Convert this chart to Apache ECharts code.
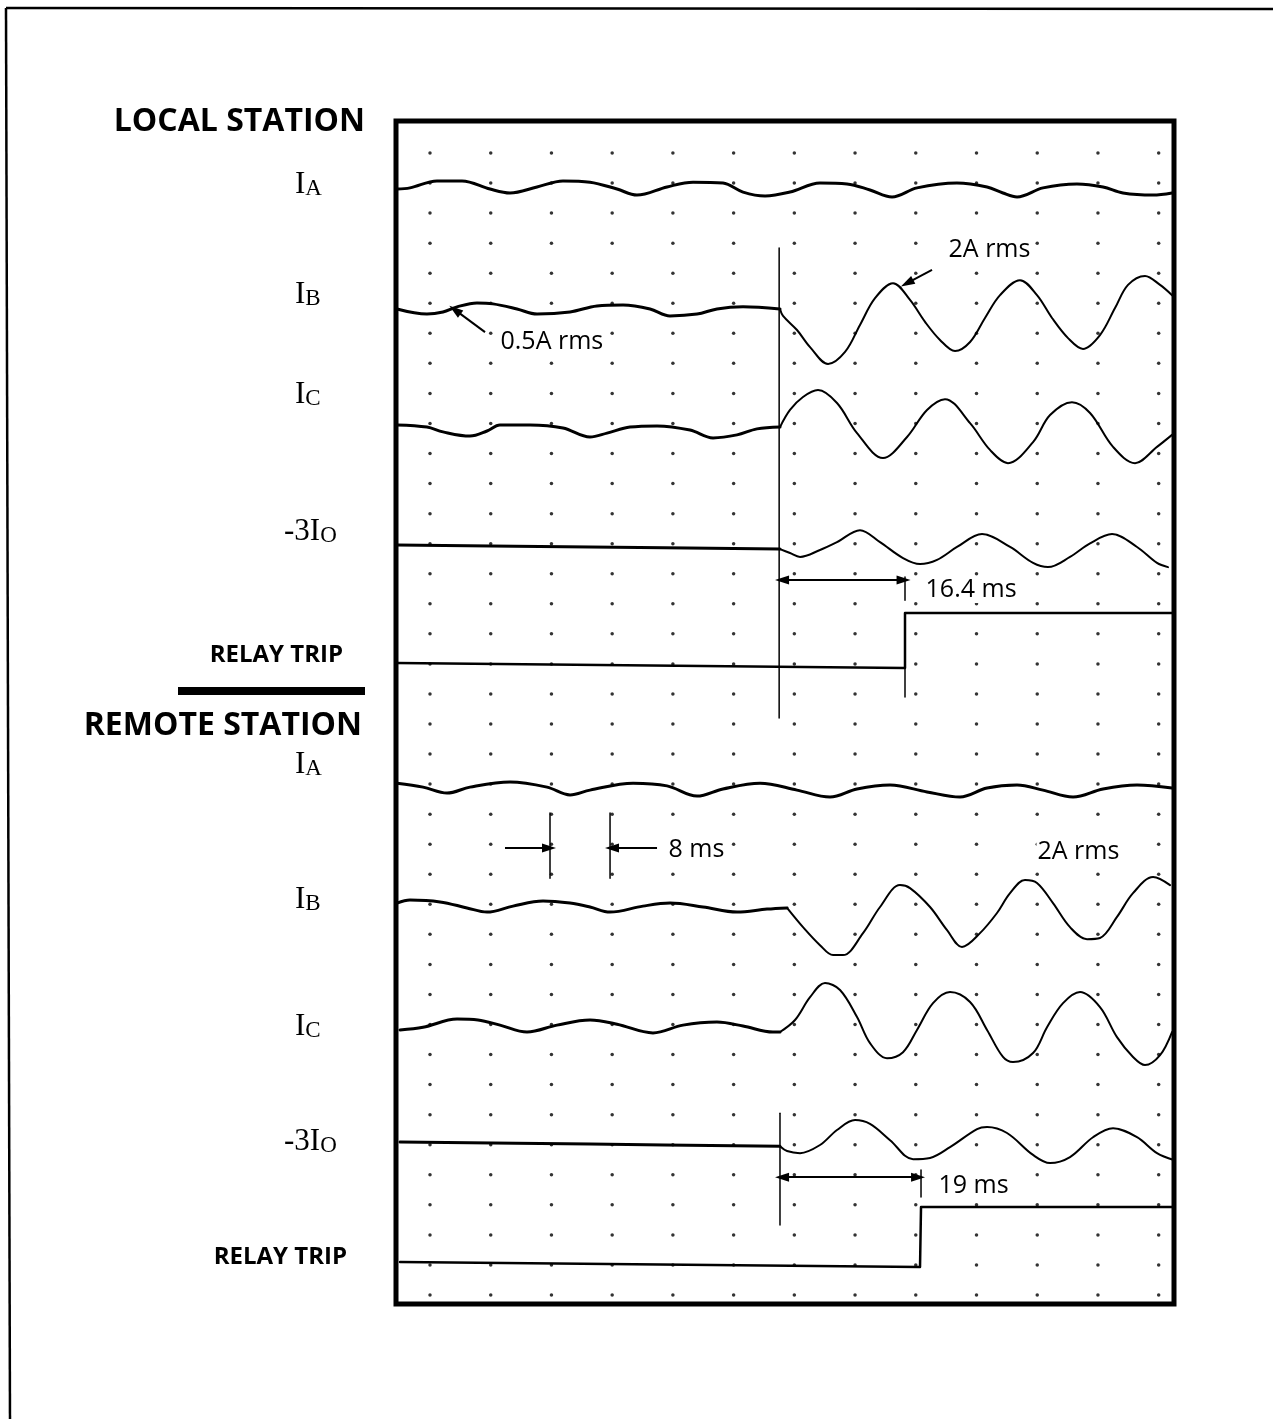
<!DOCTYPE html>
<html>
<head>
<meta charset="utf-8">
<script src="https://cdn.jsdelivr.net/npm/echarts@6/dist/echarts.min.js"></script>
<style>
  html, body { margin: 0; padding: 0; background: #fff; }
  #chart { width: 1273px; height: 1419px; }
</style>
</head>
<body>
<div id="chart"></div>
<script>
// ---- grid of dots (time in ms, rows in chart divisions, downward) ----
const dotTimes = [0, 8, 16, 24, 32, 40, 48, 56, 64, 72, 80, 88, 96];
const dotRows = [0,1,2,3,4,5,6,7,8,9,10,11,12,13,14,15,16,17,18,19,20,21,22,23,24,25,26,27,28,29,30,31,32,33,34,35,36,37,38];

// ---- LOCAL STATION traces: [time ms, position in divisions] ----
const localIA = [[-4.35,1.20],[-2.64,1.16],[0.92,0.93],[4.22,0.93],[7.91,1.20],[10.54,1.33],[14.10,1.13],[17.52,0.93],[21.08,0.97],[24.64,1.20],[27.27,1.40],[31.23,1.13],[34.65,0.97],[38.60,1.00],[41.24,1.30],[44.14,1.43],[47.43,1.30],[51.38,1.00],[54.94,1.03],[57.97,1.23],[60.87,1.46],[64.16,1.16],[69.43,1.00],[73.39,1.13],[75.49,1.33],[77.34,1.46],[80.76,1.16],[85.24,1.03],[88.67,1.13],[91.30,1.33],[95.26,1.40],[97.76,1.33]];
const localIBPre = [[-4.35,5.19],[-0.40,5.36],[1.71,5.29],[3.56,5.12],[6.19,4.99],[8.30,5.02],[11.46,5.19],[14.10,5.36],[18.45,5.29],[22.00,5.09],[25.43,5.06],[28.99,5.19],[31.62,5.42],[35.18,5.36],[37.81,5.19],[41.24,5.12],[46.11,5.19]];
const localIBPost = [[46.11,5.19],[46.51,5.42],[48.35,5.89],[50.07,6.46],[52.44,7.02],[54.68,6.62],[56.65,5.72],[58.63,4.83],[61.00,4.33],[63.24,4.89],[65.22,5.62],[67.19,6.22],[69.17,6.59],[71.15,6.29],[73.12,5.49],[75.10,4.73],[77.73,4.23],[79.97,4.73],[81.95,5.49],[84.06,6.16],[86.03,6.52],[88.27,6.06],[90.25,5.16],[91.96,4.39],[94.20,4.09],[96.18,4.39],[97.76,4.73]];
const localICPre = [[-4.35,9.05],[-0.40,9.12],[1.71,9.28],[5.27,9.42],[7.51,9.25],[9.22,9.05],[13.18,9.05],[17.52,9.15],[21.08,9.45],[23.32,9.32],[26.35,9.12],[29.91,9.08],[34.26,9.22],[37.29,9.48],[40.45,9.38],[43.08,9.18],[46.11,9.12]];
const localICPost = [[46.11,9.12],[47.43,8.55],[49.14,8.12],[51.12,7.89],[53.62,8.32],[56.26,9.32],[59.68,10.15],[62.85,9.45],[65.48,8.55],[67.85,8.19],[71.15,8.99],[73.78,9.88],[76.15,10.32],[79.45,9.62],[81.69,8.72],[84.58,8.29],[86.96,8.65],[89.99,9.78],[92.89,10.32],[95.78,9.78],[97.76,9.38]];
const localI0Pre = [[-4.35,13.04],[21.08,13.11],[46.11,13.18]];
const localI0Post = [[46.11,13.18],[47.43,13.31],[48.75,13.44],[51.38,13.21],[53.62,12.95],[56.65,12.55],[59.29,12.95],[62.32,13.48],[64.56,13.68],[66.80,13.54],[69.43,13.11],[72.73,12.68],[76.42,13.11],[79.45,13.64],[81.42,13.78],[84.32,13.44],[86.96,12.99],[89.86,12.68],[93.15,13.11],[95.78,13.64],[97.23,13.78]];
const localTrip = [[-4.35,16.97],[62.58,17.14],[62.58,15.31],[98.0,15.31]];

// ---- REMOTE STATION traces ----
const remoteIA = [[-4.35,20.97],[-0.92,21.10],[2.24,21.30],[5.27,21.10],[10.54,20.93],[15.42,21.10],[18.45,21.36],[21.08,21.20],[26.75,20.97],[31.23,21.06],[35.18,21.40],[38.60,21.16],[43.48,20.97],[48.35,21.20],[52.70,21.43],[56.26,21.16],[60.61,21.03],[65.48,21.26],[69.83,21.43],[73.39,21.13],[77.34,21.03],[80.76,21.20],[84.72,21.43],[88.67,21.16],[93.15,21.03],[97.76,21.13]];
const remoteIBPre = [[-4.35,24.96],[-2.64,24.86],[1.32,24.92],[4.87,25.12],[7.51,25.26],[10.94,25.06],[14.89,24.89],[18.45,24.96],[21.08,25.09],[23.72,25.26],[28.06,25.06],[31.62,24.96],[35.97,25.09],[40.45,25.26],[44.40,25.16],[47.04,25.12]];
const remoteIBPost = [[47.04,25.12],[49.14,25.76],[51.38,26.36],[53.10,26.69],[54.41,26.69],[57.05,25.96],[59.29,25.09],[61.92,24.36],[63.24,24.46],[65.88,25.09],[68.12,25.86],[70.09,26.42],[72.46,25.96],[74.70,25.29],[76.42,24.63],[78.39,24.19],[79.97,24.29],[82.08,24.96],[84.32,25.76],[86.56,26.16],[88.27,26.12],[90.51,25.42],[92.62,24.63],[95.26,24.09],[97.50,24.36]];
const remoteICPre = [[-3.95,29.18],[-0.92,29.09],[3.56,28.82],[6.32,28.85],[9.22,29.02],[12.78,29.25],[16.73,29.02],[21.08,28.85],[24.64,28.99],[29.38,29.28],[33.33,29.02],[37.81,28.92],[41.24,29.05],[45.19,29.25],[46.11,29.25]];
const remoteICPost = [[46.11,29.25],[48.09,28.85],[50.07,28.09],[52.04,27.62],[54.02,27.85],[56.26,28.75],[57.97,29.62],[60.21,30.12],[62.32,29.92],[64.16,29.18],[66.27,28.29],[68.51,27.92],[71.15,28.25],[73.39,29.18],[75.49,30.08],[76.81,30.25],[79.45,29.95],[81.29,29.09],[83.40,28.29],[85.64,27.92],[88.27,28.42],[90.51,29.42],[92.62,30.08],[94.20,30.35],[96.18,30.02],[97.76,29.25]];
const remoteI0Pre = [[-3.95,32.91],[21.08,32.98],[46.11,33.05]];
const remoteI0Post = [[46.11,33.05],[47.04,33.21],[48.75,33.28],[51.38,33.01],[53.62,32.51],[56.00,32.18],[57.97,32.31],[60.61,32.85],[63.64,33.48],[65.88,33.44],[68.51,33.08],[72.07,32.48],[73.39,32.41],[76.02,32.61],[79.45,33.34],[81.69,33.61],[84.32,33.41],[87.35,32.75],[89.99,32.45],[93.15,32.75],[95.78,33.28],[98.0,33.51]];
const remoteTrip = [[-3.95,36.90],[64.56,37.07],[64.69,35.07],[98.0,35.07]];

// ---- annotation marks ----
const markerSegments = [
  [[46.0,3.16],[46.0,18.80]],
  [[62.58,17.14],[62.58,18.10]],
  [[62.58,14.11],[62.58,14.88]],
  [[46.11,31.95],[46.11,35.67]],
  [[64.69,33.84],[64.69,34.74]],
  [[15.81,21.96],[15.81,24.13]],
  [[23.72,21.96],[23.72,24.13]]
];
const doubleArrows = [
  [[46.38,14.21],[62.39,14.21]],
  [[46.38,34.08],[64.30,34.08]]
];
const singleArrows = [
  [[9.88,23.13],[15.68,23.13]],
  [[29.91,23.13],[23.98,23.13]],
  [[66.14,3.89],[62.85,4.33]],
  [[7.25,5.96],[3.29,5.22]]
];
const annotationTexts = ['0.5A rms', '2A rms', '16.4 ms', '8 ms', '2A rms', '19 ms'];
const annotationPos = [[9.22,6.29],[68.25,3.23],[65.22,14.54],[31.36,23.19],[79.97,23.26],[66.93,34.38]];

// ---- left-hand labels ----
const stationTitles = ['LOCAL STATION', 'REMOTE STATION'];
const channelMain = ['I', 'I', 'I', '-3I', 'I', 'I', 'I', '-3I'];
const channelSub = ['A', 'B', 'C', 'O', 'A', 'B', 'C', 'O'];

// ================= build =================
const chart = echarts.init(document.getElementById('chart'), null, { renderer: 'canvas' });

const dotData = [];
dotRows.forEach(r => dotTimes.forEach(t => dotData.push([t, r])));

function trace(data, w, smooth) {
  return {
    type: 'line', data: data, symbol: 'none', smooth: smooth === undefined ? 0.35 : smooth,
    lineStyle: { color: '#000', width: w, cap: 'round', join: 'round' },
    silent: true, animation: false, z: 4
  };
}

const series = [];
series.push({
  type: 'scatter', data: dotData, symbol: 'circle', symbolSize: 3.5,
  itemStyle: { color: '#000' }, silent: true, animation: false, z: 2
});
[localIA].forEach(d => series.push(trace(d, 3)));
[localIBPre, localICPre, localI0Pre].forEach(d => series.push(trace(d, 3)));
[localIBPost, localICPost, localI0Post].forEach(d => series.push(trace(d, 2)));
series.push(trace(localTrip, 2.5, false));
[remoteIA, remoteIBPre, remoteICPre, remoteI0Pre].forEach(d => series.push(trace(d, 3)));
[remoteIBPost, remoteICPost, remoteI0Post].forEach(d => series.push(trace(d, 2)));
series.push(trace(remoteTrip, 2.5, false));
markerSegments.forEach(s => series.push(trace(s, 1.5, false)));

const arrowLineData = [];
doubleArrows.forEach(a => arrowLineData.push([{ coord: a[0], symbol: 'triangle' }, { coord: a[1], symbol: 'triangle' }]));
singleArrows.forEach(a => arrowLineData.push([{ coord: a[0], symbol: 'none' }, { coord: a[1], symbol: 'triangle' }]));
series.push({
  type: 'line', data: [], silent: true, animation: false, z: 5,
  markLine: {
    silent: true, animation: false,
    symbol: ['none', 'triangle'], symbolSize: [9, 14],
    label: { show: false },
    lineStyle: { color: '#000', width: 2, type: 'solid' },
    emphasis: { disabled: true },
    data: arrowLineData
  }
});

series.push({
  type: 'scatter', symbolSize: 1, itemStyle: { color: '#fff', opacity: 1 }, silent: true, animation: false,
  zlevel: 1, z: 10,
  data: annotationTexts.map((t, i) => ({ name: t, value: annotationPos[i] })),
  label: {
    show: true, position: [0, 0], align: 'left', verticalAlign: 'middle', opacity: 1,
    formatter: '{b}', color: '#000', fontFamily: 'Open Sans', fontSize: 25,
    backgroundColor: '#fff', padding: [1, 2, 1, 1], textBorderWidth: 0
  }
});

// left labels (graphic text)
const graphics = [];
function txt(x, y, text, font, align) {
  graphics.push({
    type: 'text', x: x, y: y, silent: true,
    style: { text: text, font: font, fill: '#000', textAlign: align, align: align, textVerticalAlign: 'middle', verticalAlign: 'middle' }
  });
}
txt(365, 122, stationTitles[0], 'bold 32px "Open Sans"', 'right');
txt(362, 726, stationTitles[1], 'bold 32px "Open Sans"', 'right');
txt(343, 655, 'RELAY TRIP', 'bold 24px "Open Sans"', 'right');
txt(347, 1257, 'RELAY TRIP', 'bold 24px "Open Sans"', 'right');
const chY = [184, 294, 394, 531, 764, 899, 1026, 1141];
const chX = [295, 295, 295, 284, 295, 295, 295, 284];
channelMain.forEach((m, i) => {
  graphics.push({
    type: 'text', x: chX[i], y: chY[i], silent: true,
    style: {
      text: '{m|' + m + '}{s|' + channelSub[i] + '}',
      rich: {
        m: { font: '31px "Liberation Serif"', fill: '#000', verticalAlign: 'bottom', lineHeight: 32 },
        s: { font: '23px "Liberation Serif"', fill: '#000', verticalAlign: 'bottom', lineHeight: 30 }
      },
      textAlign: 'left', align: 'left', textVerticalAlign: 'middle', verticalAlign: 'middle'
    }
  });
});
graphics.push({ type: 'rect', shape: { x: 178, y: 687, width: 187, height: 8 }, style: { fill: '#000' }, silent: true });
graphics.push({ type: 'line', shape: { x1: 6, y1: 8, x2: 1273, y2: 9 }, style: { stroke: '#000', lineWidth: 2.5 }, silent: true });
graphics.push({ type: 'line', shape: { x1: 6, y1: 8, x2: 10, y2: 1419 }, style: { stroke: '#000', lineWidth: 2.5 }, silent: true });

chart.setOption({
  backgroundColor: '#fff',
  animation: false,
  grid: { left: 396, top: 121, width: 778, height: 1183, show: true, borderColor: '#000', borderWidth: 5, backgroundColor: 'transparent', containLabel: false },
  xAxis: { type: 'value', min: -4.48, max: 98.02, show: false },
  yAxis: { type: 'value', inverse: true, min: -1.065, max: 38.30, show: false },
  series: series,
  graphic: graphics
});
</script>
</body>
</html>
